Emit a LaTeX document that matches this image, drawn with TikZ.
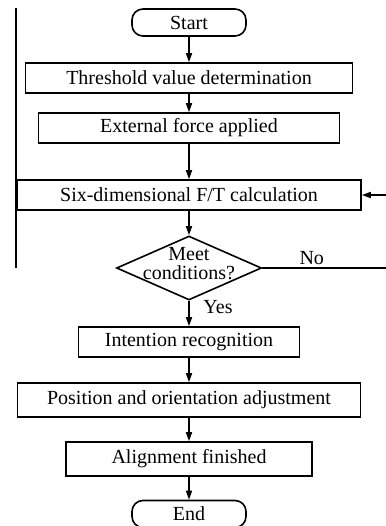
\documentclass[tikz,border=0pt]{standalone}
\usepackage{fontspec}
\setmainfont{Liberation Serif}
\usetikzlibrary{positioning, shapes.geometric, arrows.meta}

\begin{document}
\begin{tikzpicture}[x=1pt, y=1pt, node distance=30pt, on grid, auto,
    line width=0.8pt, font=\fontsize{10}{9.5}\selectfont,
    arrow/.style = {-{Triangle[length=4.5pt,width=3pt]}},
    box/.style = {draw, rectangle, minimum height=15pt, inner sep=0pt},
    terminal/.style = {draw, rectangle, rounded corners=5.5pt,
        minimum width=57pt, minimum height=13.5pt, inner sep=0pt},
    decision/.style = {draw, diamond, minimum width=72.5pt,
        minimum height=32pt, inner sep=0pt}]

    \useasboundingbox (0,0) rectangle (193,-263);

    % Steps
    \node [terminal] (start) at (94.5,-11.25) {Start};
    \node [box, minimum width=163.5pt] (threshold) [below=27.75pt of start] {Threshold value determination};
    \node [box, minimum width=150.5pt] (force) [below=25pt of threshold] {External force applied};
    \node [box, minimum width=172pt] (calc) [below=33.5pt of force] {Six-dimensional F/T calculation};
    \node [decision] (check) [below=36.5pt of calc] {};
    \node [align=center] (checktext) [above=2pt of check] {Meet\\conditions?};
    \node [box, minimum width=110.5pt] (recog) [below=37pt of check] {Intention recognition};
    \node [box, minimum width=171.5pt, minimum height=17pt] (adjust) [below=29pt of recog] {Position and orientation adjustment};
    \node [box, minimum width=123pt, minimum height=17pt] (aligned) [below=29.5pt of adjust] {Alignment finished};
    \node [terminal] (end) [below=27.5pt of aligned] {End};

    % Loop ends and side line
    \coordinate (noend) at (193,-134);
    \coordinate (ftin) at (193,-97.5);
    \coordinate (ltop) at (8,-4);
    \coordinate (lbot) at (8,-134);

    % Transitions
    \draw [arrow] (start) -- (threshold);
    \draw [arrow] (threshold) -- (force);
    \draw [arrow] (force) -- (calc);
    \draw [arrow] (calc) -- (check);
    \draw [arrow] (check) -- node[right, pos=0.26, xshift=3.5pt] (yes) {Yes} (recog);
    \draw [arrow] (recog) -- (adjust);
    \draw [arrow] (adjust) -- (aligned);
    \draw [arrow] (aligned) -- (end);
    \draw (check.east) -- node[above, pos=0.4, inner sep=1.5pt] (no) {No} (noend);
    \draw [arrow] (ftin) -- (calc.east);
    \draw [line width=0.6pt] (ltop) -- (lbot);
\end{tikzpicture}
\end{document}
